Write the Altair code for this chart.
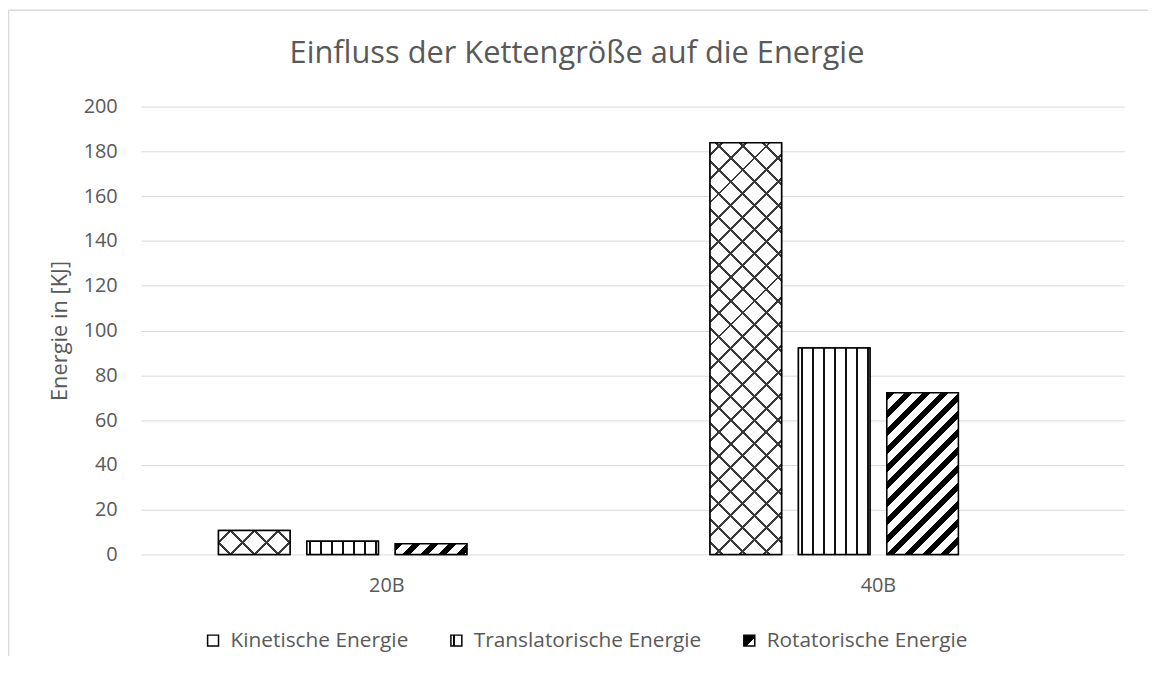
import json
import altair as alt
import pandas as pd

# ---------------- data ----------------
categories = ["20B", "40B"]
series = ["Kinetische Energie", "Translatorische Energie", "Rotatorische Energie"]
values_20B = [10.7, 5.9, 4.8]
values_40B = [183.8, 92.2, 72.2]
y_ticks = [0, 20, 40, 60, 80, 100, 120, 140, 160, 180, 200]

rows = []
for cat, vals in zip(categories, [values_20B, values_40B]):
    for s, v in zip(series, vals):
        rows.append({"Kategorie": cat, "Serie": s, "Wert": v})
df = pd.DataFrame(rows)

# ---------------- layout / style ----------------
W_PLOT, H_PLOT = 990, 451
Y_MAX = 200
SLOTS = series + [" "]          # 4th (empty) slot as in the original clustered layout
PAD_IN, PAD_OUT = 0.191, 0.876
band = W_PLOT / len(categories)
step = band / (len(SLOTS) - PAD_IN + 2 * PAD_OUT)
BAR_W = step * (1 - PAD_IN)
TXT = "#595959"
GRID = "#d9d9d9"
FONT = "Open Sans"
CLEAR = "rgba(0,0,0,0)"


def stripe_stops(total, period, width, phase, fg, bg):
    stops = [{"offset": 0, "color": bg}]
    c = (phase % period) - period
    while c - width / 2 < total:
        a = max(c - width / 2, 0) / total
        b = min(c + width / 2, total) / total
        if b > 0 and a < 1:
            a, b = round(a, 5), round(b, 5)
            stops += [{"offset": a, "color": bg}, {"offset": a, "color": fg},
                      {"offset": b, "color": fg}, {"offset": b, "color": bg}]
        c += period
    stops.append({"offset": 1, "color": bg})
    return stops


def diag_gradient(w, h, period, width, phase, fg, bg, up=True):
    t = w + h
    k = t / (w * w + h * h)
    if up:   # stripes from lower-left to upper-right
        g = {"gradient": "linear", "x1": 0, "y1": 0, "x2": w * k, "y2": h * k}
    else:    # stripes from upper-left to lower-right
        g = {"gradient": "linear", "x1": 0, "y1": 1, "x2": w * k, "y2": 1 - h * k}
    g["stops"] = stripe_stops(t, period, width, phase, fg, bg)
    return g


def vert_gradient(w, period, width, phase, fg, bg):
    return {"gradient": "linear", "x1": 0, "y1": 0, "x2": 1, "y2": 0,
            "stops": stripe_stops(w, period, width, phase, fg, bg)}


x_enc = alt.X("Kategorie:N",
              scale=alt.Scale(domain=categories, paddingInner=0, paddingOuter=0),
              axis=alt.Axis(title=None, labelAngle=0, domain=False, ticks=False,
                            labelPadding=21, labelFontSize=20, labelColor=TXT,
                            labelFont=FONT, grid=False))
xo_enc = alt.XOffset("Serie:N",
                     scale=alt.Scale(domain=SLOTS, paddingInner=PAD_IN, paddingOuter=PAD_OUT))
y_enc = alt.Y("Wert:Q",
              scale=alt.Scale(domain=[0, Y_MAX], nice=False),
              axis=alt.Axis(values=y_ticks, title="Energie in [KJ]", domain=False,
                            ticks=False, tickSize=0, labelPadding=24, labelFontSize=20,
                            labelColor=TXT, labelFont=FONT, grid=True, gridColor=GRID,
                            gridWidth=1, titleFontSize=22, titleColor=TXT,
                            titleFont=FONT, titleFontWeight="normal",
                            titleAngle=270, titleX=-82, titleY=H_PLOT / 2,
                            titleAlign="center", titleBaseline="middle"))

base = alt.Chart(df).encode(x=x_enc, xOffset=xo_enc, y=y_enc)

# legend key swatches (pattern hints)
legend_k = {"gradient": "linear", "x1": 0, "y1": 0, "x2": 1, "y2": 0,
            "stops": [{"offset": 0, "color": "white"}, {"offset": 1, "color": "white"}]}
legend_t = {"gradient": "linear", "x1": 0, "y1": 0, "x2": 1, "y2": 0,
            "stops": [{"offset": 0, "color": "white"}, {"offset": 0.15, "color": "white"},
                      {"offset": 0.15, "color": "black"}, {"offset": 0.4, "color": "black"},
                      {"offset": 0.4, "color": "white"}, {"offset": 1, "color": "white"}]}
legend_r = {"gradient": "linear", "x1": 0, "y1": 0, "x2": 1, "y2": 1,
            "stops": [{"offset": 0, "color": "black"}, {"offset": 0.6, "color": "black"},
                      {"offset": 0.6, "color": "white"}, {"offset": 1, "color": "white"}]}
legend_range = [alt.ExprRef(expr=json.dumps(g)) for g in (legend_k, legend_t, legend_r)]

layers = []
# bottom layer: carries the legend
layers.append(base.mark_bar(stroke="black", strokeWidth=1.5).encode(
    fill=alt.Fill("Serie:N",
                  scale=alt.Scale(domain=series, range=legend_range),
                  legend=alt.Legend(
                      title=None, orient="none", legendX=62, legendY=527,
                      direction="horizontal", symbolType="square", symbolSize=121,
                      symbolStrokeColor="black", symbolStrokeWidth=1.5,
                      symbolOpacity=1, labelFont=FONT, labelFontSize=21,
                      labelLimit=500, labelColor=TXT, labelOffset=7,
                      columnPadding=37, padding=0))))

for cat, vals in zip(categories, [values_20B, values_40B]):
    for s, v in zip(series, vals):
        h = v / Y_MAX * H_PLOT
        sel = base.transform_filter((alt.datum.Kategorie == cat) & (alt.datum.Serie == s))
        if s == series[0]:
            g1 = diag_gradient(BAR_W, h, 24, 3.0, 12, "#3a3a3a", "white", up=True)
            g2 = diag_gradient(BAR_W, h, 24, 3.0, 12, "#3a3a3a", CLEAR, up=False)
            layers.append(sel.mark_bar(fill=g1, strokeWidth=0))
            layers.append(sel.mark_bar(fill=g2, strokeWidth=0))
        elif s == series[1]:
            g = vert_gradient(BAR_W, 11.08, 2.2, 3.5, "#111111", "white")
            layers.append(sel.mark_bar(fill=g, strokeWidth=0))
        else:
            g = diag_gradient(BAR_W, h, 18, 8, 4, "#000000", "white", up=True)
            layers.append(sel.mark_bar(fill=g, strokeWidth=0))

# outlines on top
layers.append(base.mark_bar(fill="white", fillOpacity=0, stroke="black", strokeWidth=1.5))

frame_data = alt.Data(values=[{"f": 1}])
frame_top = alt.Chart(frame_data).mark_rule(color=GRID, strokeWidth=1.5).encode(
    x=alt.value(-133.5), x2=alt.value(1014), y=alt.value(-97))
frame_left = alt.Chart(frame_data).mark_rule(color=GRID, strokeWidth=1.5).encode(
    x=alt.value(-133.5), y=alt.value(-97), y2=alt.value(570))
layers += [frame_top, frame_left]

chart = alt.layer(*layers).properties(
    width=W_PLOT, height=H_PLOT,
    autosize=alt.AutoSizeParams(type="none"),
    padding={"left": 134, "top": 97, "right": 25, "bottom": 100},
    background="white",
    title=alt.TitleParams(text="Einfluss der Kettengröße auf die Energie",
                          fontSize=31, font=FONT, color=TXT, fontWeight="normal",
                          anchor="middle", dx=-56, offset=-85, baseline="alphabetic"),
).configure(font=FONT).configure_view(strokeWidth=0)

chart.save("out.html", embed_options={"renderer": "svg", "actions": False})
